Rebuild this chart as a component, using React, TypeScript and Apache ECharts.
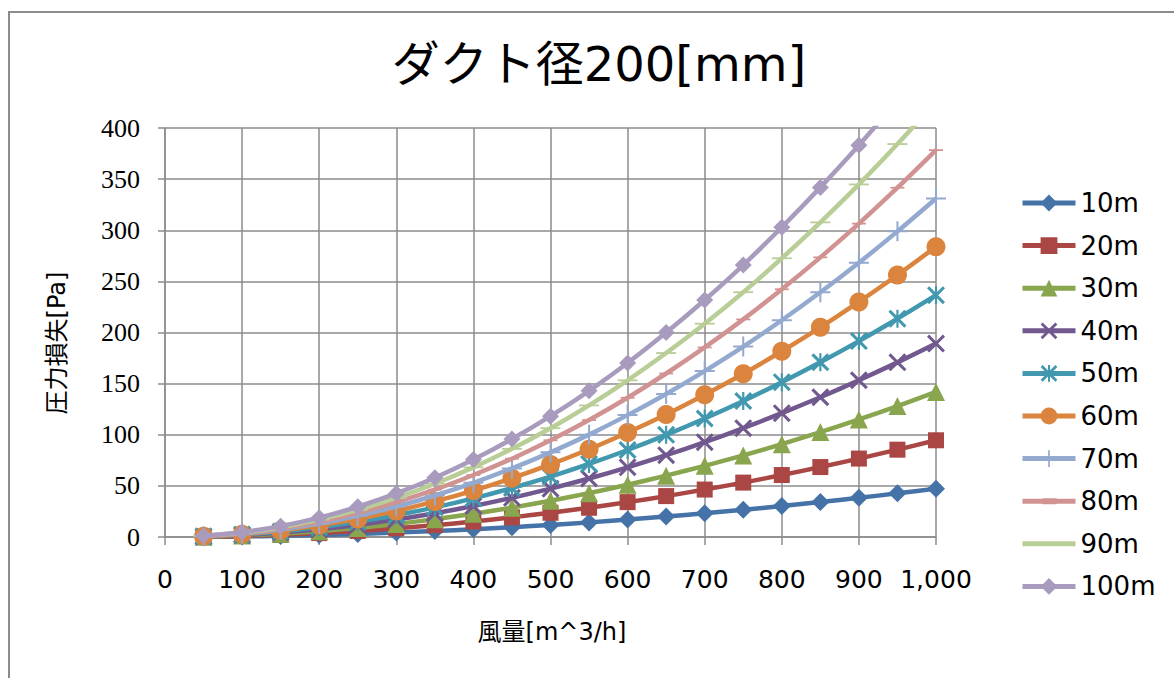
import React, { useEffect, useRef } from "react";
import * as echarts from "echarts";

const titleText = "ダクト径200[mm]";
const xAxisName = "風量[m^3/h]";
const yAxisName = "圧力損失[Pa]";

const airflow = [50, 100, 150, 200, 250, 300, 350, 400, 450, 500, 550, 600, 650, 700, 750, 800, 850, 900, 950, 1000];
const xTicks = [0, 100, 200, 300, 400, 500, 600, 700, 800, 900, 1000];
const xTickLabels = ["0", "100", "200", "300", "400", "500", "600", "700", "800", "900", "1,000"];
const yTickLabels = ["0", "50", "100", "150", "200", "250", "300", "350", "400"];

const seriesNames = ["10m", "20m", "30m", "40m", "50m", "60m", "70m", "80m", "90m", "100m"];

const loss10 = [0.12, 0.47, 1.1, 1.9, 3.0, 4.3, 5.8, 7.6, 9.6, 11.8, 14.3, 17.0, 20.0, 23.2, 26.6, 30.3, 34.2, 38.3, 42.7, 47.3];
const loss20 = [0.24, 0.95, 2.1, 3.8, 5.9, 8.5, 11.6, 15.1, 19.2, 23.7, 28.6, 34.1, 40.0, 46.4, 53.2, 60.6, 68.4, 76.7, 85.4, 94.6];
const loss30 = [0.35, 1.4, 3.2, 5.7, 8.9, 12.8, 17.4, 22.7, 28.7, 35.5, 42.9, 51.1, 60.0, 69.6, 79.8, 90.8, 102.6, 115.0, 128.1, 141.9];
const loss40 = [0.47, 1.9, 4.3, 7.6, 11.8, 17.0, 23.2, 30.3, 38.3, 47.3, 57.2, 68.1, 80.0, 92.7, 106.4, 121.1, 136.7, 153.3, 170.8, 189.2];
const loss50 = [0.59, 2.4, 5.3, 9.5, 14.8, 21.3, 29.0, 37.8, 47.9, 59.1, 71.5, 85.1, 99.9, 115.9, 133.0, 151.4, 170.9, 191.6, 213.5, 236.5];
const loss60 = [0.71, 2.8, 6.4, 11.4, 17.7, 25.5, 34.8, 45.4, 57.5, 71.0, 85.8, 102.2, 119.9, 139.1, 159.6, 181.7, 205.1, 229.9, 256.2, 283.8];
const loss70 = [0.83, 3.3, 7.4, 13.2, 20.7, 29.8, 40.6, 53.0, 67.1, 82.8, 100.1, 119.2, 139.9, 162.3, 186.2, 212.0, 239.3, 268.2, 298.9, 331.1];
const loss80 = [0.95, 3.8, 8.5, 15.1, 23.7, 34.1, 46.3, 60.6, 76.6, 94.6, 114.4, 136.2, 159.9, 185.4, 212.8, 242.3, 273.5, 306.5, 341.6, 378.4];
const loss90 = [1.06, 4.3, 9.6, 17.0, 26.6, 38.3, 52.1, 68.1, 86.2, 106.4, 128.7, 153.2, 179.9, 208.6, 239.4, 272.6, 307.7, 344.8, 384.3, 425.7];
const loss100 = [1.18, 4.7, 10.6, 18.9, 29.6, 42.6, 57.9, 75.7, 95.8, 118.2, 143.0, 170.2, 199.9, 231.8, 266.0, 302.9, 341.9, 383.1, 427.0, 473.0];

const seriesValues = [loss10, loss20, loss30, loss40, loss50, loss60, loss70, loss80, loss90, loss100];

const colors = ["#4572A7", "#AA4643", "#89A54E", "#71588F", "#4198AF", "#DB843D", "#93A9CF", "#D19392", "#B9CD96", "#A99BBD"];

const X_PATH = "path://M0,1.2L1.2,0L5,3.8L8.8,0L10,1.2L6.2,5L10,8.8L8.8,10L5,6.2L1.2,10L0,8.8L3.8,5Z";
const STAR_PATH = "path://M0,1.2L1.2,0L5,3.8L8.8,0L10,1.2L6.2,5L10,8.8L8.8,10L5,6.2L1.2,10L0,8.8L3.8,5Z M4.4,0L5.6,0L5.6,3.6L4.4,3.6Z M4.4,6.4L5.6,6.4L5.6,10L4.4,10Z";
const PLUS_PATH = "path://M4.5,0L5.5,0L5.5,4.5L10,4.5L10,5.5L5.5,5.5L5.5,10L4.5,10L4.5,5.5L0,5.5L0,4.5L4.5,4.5Z";
const SHORT_DASH = "path://M0,0L14,0L14,5L0,5Z";
const LONG_DASH = "path://M0,0L20,0L20,6L0,6Z";

// legend icons (line + marker) for the dash-marker series, drawn in a 53x21 box
const LEGEND_SHORT_DASH = "path://M0,0L0.01,0L0.01,0.01Z M0,8L53,8L53,13L0,13Z M20,7.5L34,7.5L34,13.5L20,13.5Z M52.99,21L53,21L53,20.99Z";
const LEGEND_LONG_DASH = "path://M0,0L0.01,0L0.01,0.01Z M0,8L53,8L53,13L0,13Z M52.99,21L53,21L53,20.99Z";

const symbols: any[] = ["diamond", "rect", "triangle", X_PATH, STAR_PATH, "circle", PLUS_PATH, SHORT_DASH, LONG_DASH, "diamond"];
const symbolSizes: any[] = [18, 16, 18, 18, 18, 19, 20, [14, 5], [20, 6], 17];
const legendIcons: any[] = [null, null, null, null, null, null, null, LEGEND_SHORT_DASH, LEGEND_LONG_DASH, null];

const LATIN_FONT = "DejaVu Sans, Noto Sans CJK JP, sans-serif";

export default function App() {
  const ref = useRef<HTMLDivElement>(null);
  useEffect(() => {
    document.body.style.margin = "0";
    if (!ref.current) return;
    const chart = echarts.init(ref.current, undefined, { renderer: "svg" });
    const gridColor = "#8c8c8c";
    const series = seriesNames.map((name, i) => ({
      name,
      type: "line",
      data: airflow.map((x, j) => [x, seriesValues[i][j]]),
      smooth: 0.25,
      symbol: symbols[i],
      symbolSize: symbolSizes[i],
      symbolKeepAspect: true,
      showAllSymbol: true,
      clip: true,
      lineStyle: { color: colors[i], width: 4.5 },
      itemStyle: { color: colors[i], borderWidth: 0 },
      z: 2 + i,
    }));
    const legendData = seriesNames.map((name, i) =>
      legendIcons[i] ? { name, icon: legendIcons[i] } : { name }
    );
    chart.setOption({
      animation: false,
      backgroundColor: "#ffffff",
      title: {
        text: titleText,
        left: 594,
        top: 35,
        textAlign: "center",
        textStyle: {
          fontFamily: LATIN_FONT,
          fontSize: 48,
          fontWeight: "normal",
          color: "#000",
        },
      },
      legend: {
        orient: "vertical",
        left: 1020,
        top: 190,
        padding: 0,
        itemWidth: 53,
        itemHeight: 21,
        itemGap: 16.6,
        lineStyle: { width: 5 },
        data: legendData,
        textStyle: {
          fontFamily: LATIN_FONT,
          fontSize: 26,
          lineHeight: 26,
          color: "#000",
        },
      },
      grid: { left: 165, right: 238, top: 128, bottom: 141, containLabel: false },
      xAxis: {
        type: "value",
        min: 0,
        max: 1000,
        interval: 100,
        axisLine: { show: true, lineStyle: { color: gridColor, width: 1.5 } },
        axisTick: { show: true, length: 8, lineStyle: { color: gridColor, width: 1.5 } },
        splitLine: { show: true, lineStyle: { color: gridColor, width: 1.5 } },
        axisLabel: {
          margin: 30,
          fontFamily: LATIN_FONT,
          fontSize: 25,
          color: "#000",
          formatter: (v: number) => {
            const k = xTicks.indexOf(v);
            return k >= 0 ? xTickLabels[k] : "";
          },
        },
      },
      yAxis: {
        type: "value",
        min: 0,
        max: 400,
        interval: 50,
        axisLine: { show: true, lineStyle: { color: gridColor, width: 1.5 } },
        axisTick: { show: true, length: 7, lineStyle: { color: gridColor, width: 1.5 } },
        splitLine: { show: true, lineStyle: { color: gridColor, width: 1.5 } },
        axisLabel: {
          margin: 25,
          fontFamily: "Liberation Serif, serif",
          fontSize: 26,
          color: "#000",
          formatter: (v: number) => yTickLabels[Math.round(v / 50)] ?? "",
        },
      },
      graphic: [
        {
          type: "rect",
          silent: true,
          shape: { x: 9, y: 12, width: 1200, height: 700 },
          style: { fill: "none", stroke: "#8c8c8c", lineWidth: 2 },
          z: -10,
        },
        {
          type: "text",
          x: 57,
          y: 343,
          rotation: Math.PI / 2,
          style: {
            text: yAxisName,
            fontFamily: LATIN_FONT,
            fontSize: 24,
            fill: "#000",
            textAlign: "center",
            textVerticalAlign: "middle",
          },
        },
        {
          type: "text",
          x: 552,
          y: 632,
          style: {
            text: xAxisName,
            fontFamily: LATIN_FONT,
            fontSize: 24,
            fill: "#000",
            textAlign: "center",
            textVerticalAlign: "middle",
          },
        },
      ],
      series,
    });
    return () => chart.dispose();
  }, []);
  return <div ref={ref} style={{ width: 1174, height: 678 }} />;
}
